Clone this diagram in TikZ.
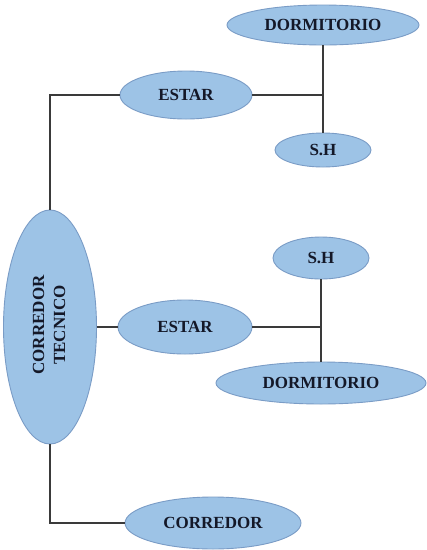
\documentclass[tikz,border=0pt]{standalone}
\usepackage{fontspec}
\setmainfont{Liberation Serif}
\usetikzlibrary{shapes.geometric}
\definecolor{roomfill}{HTML}{9DC3E6}
\definecolor{roomedge}{HTML}{7A9CC6}
\definecolor{linkgray}{HTML}{3A3A3A}
\definecolor{labelink}{HTML}{141828}
\tikzset{
  room/.style={ellipse, draw=roomedge, line width=0.9pt, fill=roomfill, inner sep=0pt,
    text=labelink, font=\fontsize{17}{20}\selectfont\bfseries},
  link/.style={draw=linkgray, line width=1.1pt}
}
\begin{document}
\begin{tikzpicture}[x=1pt,y=-1pt]
\useasboundingbox (0,0) rectangle (427,550);
\fill[white] (0,0) rectangle (427,550);

% spine with its vertical label
\node[room, minimum width=93pt, minimum height=234pt] (ct) at (50,327) {};
\node[text=labelink, font=\fontsize{17}{21}\selectfont\bfseries, rotate=90, align=center, inner sep=0pt] (ctlabel) at (49,325) {CORREDOR\\TECNICO};

% upper branch
\node[room, minimum width=132pt, minimum height=48pt] (estar1) at (186,95) {ESTAR};
\node[room, minimum width=192pt, minimum height=40pt] (dorm1) at (323,25) {DORMITORIO};
\node[room, minimum width=96pt, minimum height=34pt] (sh1) at (323,150) {S.H};

% middle branch
\node[room, minimum width=134pt, minimum height=54pt] (estar2) at (185,327) {ESTAR};
\node[room, minimum width=96pt, minimum height=42pt] (sh2) at (321,258) {S.H};
\node[room, minimum width=210pt, minimum height=42pt] (dorm2) at (321,383) {DORMITORIO};

% lower branch
\node[room, minimum width=176pt, minimum height=52pt] (corr) at (213,523) {CORREDOR};

% connectors
\draw[link] (ct.north) |- (estar1.west);
\draw[link] (ct.south) |- (corr.west);
\draw[link] (ct.east) -- (estar2.west);

\draw[link] (dorm1.south) -- (sh1.north);
\coordinate (j1) at (estar1.east -| dorm1.south);
\draw[link] (estar1.east) -- (j1);

\draw[link] (sh2.south) -- (dorm2.north);
\coordinate (j2) at (estar2.east -| sh2.south);
\draw[link] (estar2.east) -- (j2);
\end{tikzpicture}
\end{document}
